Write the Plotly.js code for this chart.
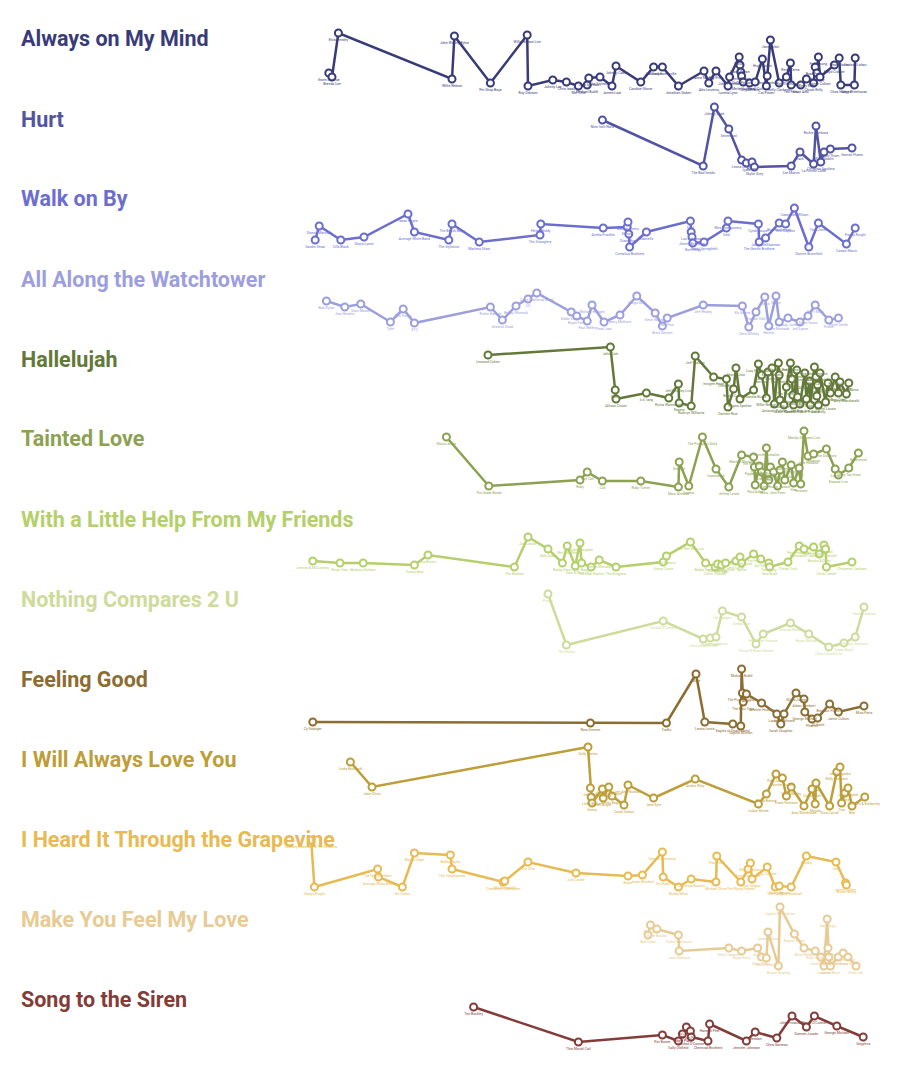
<!DOCTYPE html>
<html>
<head>
<meta charset="utf-8">
<script src="https://cdn.plot.ly/plotly-3.0.1.min.js"></script>
<style>html,body{margin:0;padding:0;background:#fff;}#chart{width:900px;height:1074px;}</style>
</head>
<body>
<div id="chart"></div>
<script>
// ---- Data: one set of arrays per song (x = release year, y = popularity score) ----
const songTitles = ["Always on My Mind","Hurt","Walk on By","All Along the Watchtower","Hallelujah","Tainted Love","With a Little Help From My Friends","Nothing Compares 2 U","Feeling Good","I Will Always Love You","I Heard It Through the Grapevine","Make You Feel My Love","Song to the Siren"];

const mindYear = [1941.1,1941.5,1942.3,1956.5,1956.8,1961.3,1965.9,1966.0,1969.1,1970.8,1972.3,1973.4,1973.6,1975.0,1976.5,1977.0,1980.1,1981.7,1982.8,1984.8,1988.0,1988.6,1989.5,1991.0,1991.2,1992.4,1992.5,1992.6,1992.7,1992.9,1993.7,1994.4,1995.3,1995.8,1995.9,1996.3,1997.4,1998.3,1998.8,1998.9,2000.1,2000.8,2001.7,2001.9,2002.1,2002.3,2002.5,2004.3,2004.9,2005.1,2006.8,2006.9];
const mindScore = [27,23,67,21,64,17,65,14,20,18,14,15,22,23,14,34,18,33,33,14,29,17,29,14,23,43,35,28,24,18,17,18,41,14,24,60,17,23,37,15,15,21,17,33,27,43,23,35,42,15,15,42];
const mindArtists = ["Gwen McCrae","Brenda Lee","Elvis Presley","Willie Nelson","John Wesley Ryles","Pet Shop Boys","Willie Nelson Live","Roy Orbison","Johnny Lee","Chris Isaak","Mel Tillis","Michael Bublé","Julio Iglesias","The Stylistics","James Last","Johnny Cash","Candice Glover","Joe Cocker","Jimmy Somerville","Jonathan Stoker","Anne Murray","Alex Leuterio","Ray Price","Loretta Lynn","John Farnham","Nicole","Frank Ocean","Chris Martin","Dolly Parton","Merle Haggard","Tony Christie","Cheryl Cole","Hugh Laurie","Cat Power","Ken Heinlein","Jane Birkin","Kelly Clarkson","Rob Thomas","Kevin Kerns","Ted Ferro","Steve Aoki","Kerry Ellis","Chuck Kelly","Brad Paisley","Morrissey","Paul Young","Jamie Cullum","Floyd Cramer","Dean Martin","Chas Hodges","Amy Winehouse","Lindsay Lohan"];

const hurtYear = [1975.3,1987.9,1989.3,1991.1,1992.7,1993.3,1994.0,1994.3,1998.9,2000.0,2001.7,2002.0,2002.6,2003.0,2003.8,2006.5];
const hurtScore = [60,14,73,51,20,17,18,13,14,28,16,54,18,28,31,32];
const hurtArtists = ["Nine Inch Nails","The Bad Seeds","Johnny Cash","Sevendust","Leona Lewis","Lydia","Halsey","Skylar Grey","Lee Marvin","Jack","La Fuente Cash","Richie Sambora","Christina Aguilera","Mikal Goblin","Saint Thom","Gomez Flores"];

const walkYear = [1939.4,1939.9,1942.6,1945.5,1951.0,1951.8,1956.1,1956.5,1959.9,1967.5,1967.6,1975.4,1978.4,1978.5,1978.6,1978.7,1980.8,1986.3,1986.4,1986.5,1986.6,1988.0,1990.8,1991.0,1994.8,1994.9,1995.7,1997.4,1998.2,1999.3,2001.1,2002.3,2005.8,2006.9];
const walkScore = [20,34,20,23,46,28,20,36,18,25,36,32,33,38,26,13,28,39,28,23,17,18,32,39,36,18,22,37,36,52,13,37,16,32];
const walkArtists = ["Sandie Shaw","Dionne Warwick","Cilla Black","Gloria Lynne","Isaac Hayes","Average White Band","The Stylistics","The Beach Boys","Marlena Shaw","The Stranglers","Helen Reddy","Aretha Franklin","D-Train","Bobbie Gentry","Diana Ross","Cornelius Brothers","Gabrielle","Sybil","Lou Johnson","Jimmy Bo Horne","Kurt Elling","Dusty Springfield","Seal","Wes Montgomery","Cyndi Lauper","The Gentle Brothers","Jackie DeShannon","Burt Bacharach","Eric Clapton","Cassandra Wilson","Dionne Bromfield","Tom Jones","Cassie Mavis","Franky Knight"];

const towerYear = [1940.8,1943.1,1945.1,1948.8,1950.4,1951.8,1961.3,1962.8,1964.5,1966.0,1967.1,1971.4,1972.1,1973.4,1974.0,1975.5,1977.5,1979.6,1981.9,1982.8,1983.4,1987.9,1992.8,1993.6,1994.5,1995.6,1996.1,1997.0,1997.4,1998.5,2000.0,2001.0,2001.9,2003.6,2004.8];
const towerScore = [39,33,36,18,31,17,33,20,34,41,47,28,24,19,35,18,25,44,27,14,22,35,34,13,28,43,14,44,18,22,18,24,35,20,22];
const towerArtists = ["Bob Dylan","Jimi Hendrix","Dave Mason","Tyler","Neil Young","XTC","Richie Havens","Grateful Dead","Bobby Womack","U2","Dave Matthews Band","Eddie Vedder","Bryan Ferry","Paul Weller","Michael Hedges","Pearl Jam","Barry McGuire","Indigo Girls","Steve Wariner","Brett Dennen","Neil Finn","Jeff Healey","Ely Guerra","Chris Whitley","Frankie Valli","Travis","Heretic","Devlin","The Nomads","Cowboy Junkies","Jeff Lynne","Dylan Stone","Gov't Mule","Prince","Elliott Smith"];

const hallelujahYear = [1961.0,1976.3,1976.9,1977.0,1980.8,1983.6,1984.8,1984.9,1986.4,1986.9,1989.2,1990.8,1991.0,1991.7,1992.0,1992.5,1994.2,1994.8,1995.2,1995.8,1996.0,1996.5,1996.8,1997.3,1997.4,1997.5,1998.0,1998.3,1998.8,1999.0,1999.1,1999.2,1999.6,1999.7,2000.0,2000.6,2000.8,2001.2,2001.3,2001.8,2002.0,2002.1,2002.2,2002.3,2002.5,2003.2,2003.5,2003.8,2004.4,2004.8,2005.0,2005.8,2006.1];
const hallelujahScore = [65,73,30,21,27,22,36,17,14,64,43,41,13,31,52,21,30,56,45,22,48,52,16,57,45,20,15,33,57,41,25,15,50,23,16,47,21,39,15,53,43,24,35,15,47,18,37,27,43,27,38,26,37];
const hallelujahArtists = ["Leonard Cohen","John Cale","Bono","Allison Crowe","k.d. lang","Rufus Wainwright","Jeff Buckley Live","Espers","Kathryn Williams","Jeff Buckley","Imogen Heap","Chris Botti","Damien Rice","Brandi Carlile","Sheryl Crow","Regina Spektor","Alexandra Burke","Lucy Woodward","Bon Jovi","Willie Nelson","Justin Timberlake","Kate Voegele","Amanda Palmer","Espen Lind","Paul Potts","Lee DeWyze","Jason Castro","Tim Minchin","Pentatonix","Il Divo","Celtic Woman","Katie Melua","Neil Diamond","Susan Boyle","Jon Bon Jovi","Alexandra Stan","Ana Moura","Allison Iraheta","Kirk Franklin","Brandon Flowers","Matt Corby","Bastille","Myles Kennedy","Tori Kelly","Jake Shimabukuro","Daniel Lavoie","Kate McKinnon","Fink","Roomful","Tom Odell","Kelley Mickwee","Amy Macdonald","Ryan Adams"];

const taintedYear = [1955.8,1961.1,1972.5,1973.4,1975.3,1980.1,1984.8,1984.9,1986.1,1987.8,1989.5,1991.1,1992.7,1994.2,1994.3,1994.4,1994.9,1995.2,1995.5,1995.8,1996.0,1996.1,1996.3,1996.7,1997.2,1997.5,1997.8,1998.1,1998.9,1999.2,1999.9,2000.1,2000.5,2001.0,2001.7,2003.3,2004.4,2004.8,2006.1,2007.3];
const taintedScore = [63,14,20,28,19,19,13,38,14,63,31,13,45,43,33,15,34,28,14,52,27,20,33,28,14,30,38,20,35,17,32,16,69,44,46,51,31,25,32,47];
const taintedArtists = ["Gloria Jones","The Grass Roots","Ruby","Soft Cell","Coil","Ruby Turner","Marc Almond","Erasure","Inpetto","The Pussycat Dolls","Impedance","Jeffrey Lewis","Marilyn Manson","The Pussycats","Pippa Jones","Paul Anka","Tiger Army","Lissie","Mika","Jennifer Scholes","Schulz","Blue Hearts","The Living End","David Byrne","Jem Finer","Jonathan Coulton","Dolores","Cassie","Voyager","Slim","Shag","Forward","Marilyn Manson Live","Jolie Holland","Rihanna","The Dolphins","Laura","Erasure Live","Shiny Toy Guns","Nevermind"];

const helpYear = [1939.1,1942.5,1945.4,1951.8,1953.5,1964.3,1966.0,1968.5,1970.3,1970.9,1971.9,1972.5,1972.7,1973.9,1974.9,1977.0,1982.9,1983.3,1986.3,1988.2,1989.4,1989.7,1990.2,1990.7,1992.0,1992.5,1992.7,1994.2,1995.1,1996.1,1996.2,1998.5,1999.9,2000.5,2001.7,2002.4,2003.0,2003.2,2003.3,2006.5];
const helpScore = [19,17,17,15,25,13,43,31,17,34,14,37,17,13,20,13,18,24,38,17,13,16,15,17,19,23,17,26,21,17,13,18,34,31,33,26,35,31,13,18];
const helpArtists = ["Lennon & McCartney","Ringo Starr","Barbara Dickson","Young Idea","Joe Brown","The Beatles","Joe Cocker","Bob Dylan","Bobby Darin","Wet Wet Wet","Sam & Dave","Frankie Vaughan","Billy Bragg","The Mad Hatters","Sergio Mendes","The Kingpins","Sonny Curtis","Jim Nabors","Wet Wet Wet Live","Bobby Kimball","Celtic Thunder","Elaine Paige","The Cast","Grand Funk","Jeff Lynne","Steve Winwood","Spirits","Jim Hall","Axl Vibe","Tom Petty","Sam Bush","Cheap Trick","Peter Frampton","Barenaked Ladies","Richie Havens","Brooks & Dunn","KT Tunstall","Cavan Kendall","Chris Cornell","Cheyenne Jackson"];

const comparesYear = [1968.5,1970.8,1982.9,1987.9,1988.8,1989.5,1990.3,1992.7,1994.5,1995.4,1998.8,2001.1,2003.6,2005.5,2006.9,2008.0];
const comparesScore = [66,15,39,21,22,23,49,43,16,26,37,26,13,17,23,53];
const comparesArtists = ["Prince","The Family","Sinéad O'Connor","Jimmy Somerville","Chris Cornell","Stereophonics","Ute Lemper","Sinéad Live","Prince & Rosie Gaines","Hothouse Flowers","Dolores Keane","Bryan McFadden","Chris Cornell Live","Susan Boyle","Kenny Lattimore","Seeed Thomas"];

const feelingYear = [1939.1,1973.8,1983.3,1987.0,1988.1,1991.6,1992.6,1992.7,1992.8,1992.9,1993.3,1995.2,1997.1,1997.6,1998.0,1999.5,2000.5,2000.6,2001.5,2002.2,2003.7,2004.8,2008.0];
const feelingScore = [18,17,17,66,18,16,14,71,47,38,46,37,26,16,26,47,41,28,21,22,36,28,34];
const feelingArtists = ["Cy Grainger","Nina Simone","Traffic","Muse","Leona Lewis","Eagles of Death Metal","Sophie Milman","Michael Bublé","The Pussycat Dolls","The Four Tops","Avicii","Jennifer Hudson","Lauryn Hill","Sarah Vaughan","John Coltrane","Gloria Jones","Adam Lambert","George Michael","Pharrell","Jill Scott","Brandon Flowers","Jamie Cullum","Mica Paris"];

const alwaysYear = [1943.8,1946.5,1973.5,1973.8,1973.9,1974.0,1975.3,1975.4,1976.1,1976.5,1978.0,1978.5,1981.7,1986.9,1994.8,1995.8,1997.0,1997.8,1998.3,1998.9,2000.5,2001.5,2001.9,2002.0,2003.7,2004.6,2005.0,2005.2,2005.6,2006.0,2006.5,2008.1];
const alwaysScore = [58,33,73,32,23,17,31,22,33,24,15,35,22,41,16,26,46,42,24,33,14,31,16,37,14,48,53,17,27,32,14,23];
const alwaysArtists = ["Linda Ronstadt","Jane Olivor","Dolly Parton","John Doe","Linda Bodin","Sonny","Jim Reeves","Jeff Bright","Whitney Houston","Kenny Rogers","Candi Staton","Lee Ann Womack","Jane Eyre","Amber Riley","LeAnn Rimes","Paola Bonnie","Patti Jones","Jennifer Hudson","Frank Fontaine","Scott Wesley","Amy Winehouse","Cassie Ash","Mariah","Ella","Dina Carroll","Kelly Clarkson","Jordin Sparks","Tina","Celine","John Legend","Rita","Kristen & Kimberley"];

const grapevineYear = [1938.9,1939.3,1947.2,1947.3,1950.3,1951.8,1956.3,1956.5,1962.9,1963.1,1966.0,1972.0,1978.5,1980.3,1982.8,1982.9,1984.8,1986.4,1989.5,1989.6,1992.6,1993.5,1993.8,1994.0,1995.9,1996.9,1997.4,1998.9,2000.8,2004.5,2005.7,2005.8];
const grapevineScore = [60,13,31,23,13,47,45,31,18,19,38,27,24,25,48,23,13,21,18,44,18,31,37,21,33,13,14,13,44,38,17,15];
const grapevineArtists = ["Smokey Robinson & The Miracles","Gladys Knight","The Isley Brothers","Average White Band","Ike Turner","Marvin Gaye","Bobby Taylor","The Temptations","Creedence Clearwater","Ella Fitzgerald","The Slits","Joe Cocker","Roger","Jesse Bluebird","Donnie Hathaway","Del Hyatt","Buddy Miles","California Raisins","Michael Oliver","Paul Knoll","The Flying Pickets","Amy Winehouse","Kelly Clarkson","Joe Stilgoe","Eric Clapton","Sue Folley","Nancy Brown","Mick Hucknall","Crosby","Seal","Jamie Cullum","Brown Bailey"];

const loveYear = [1981.0,1981.3,1982.1,1984.8,1984.9,1991.1,1992.7,1994.7,1995.2,1995.8,1996.0,1997.3,1997.5,1999.3,2000.5,2001.9,2002.6,2003.0,2003.4,2003.5,2003.6,2003.8,2004.8,2005.4,2006.0,2007.0];
const loveScore = [45,55,51,45,29,32,29,32,23,22,48,14,73,46,32,29,23,14,61,32,23,14,23,27,23,14];
const loveArtists = ["Bob Dylan","Billy Joel","Garth Brooks","Trisha Yearwood","Joan Osborne","Kelly Clarkson","Bryan Ferry","Adele","Boyz II Men","Neil Diamond","Jamie Cullum","Ronan Keating","Sophie B. Hawkins","Rachel Weisz","Bette Midler","Kelly Jones","Sarah Darling","Lonestar","Jake Bugg","Tim Mills","Greg Holden","James Blunt","Ed Sheeran","Hayley Reinhart","Shane Filan","Pixie Lott"];

const sirenYear = [1959.2,1972.3,1982.8,1984.8,1985.3,1985.8,1986.3,1986.4,1988.5,1988.7,1993.3,1994.4,1997.1,1999.0,2000.8,2001.8,2004.6,2007.9];
const sirenScore = [53,18,25,19,26,33,29,23,19,36,19,28,22,44,33,44,34,23];
const sirenArtists = ["Tim Buckley","This Mortal Coil","Pat Boone","Sally Oldfield","Robert Plant","Jo Lemaire","Bryan Ferry","Sinéad O'Connor","Chemical Brothers","Hannah Peel","Jennifer Johnson","Brendan","Chris Garneau","John Frusciante","Damien Jurado","Elaine O'Connor","George Michael","Sisyphus"];

const songColors = ["#393b79","#5254a3","#6b6ecf","#9c9ede","#637939","#8ca252","#b5cf6b","#cedb9c","#8c6d31","#bd9e39","#e7ba52","#e7cb94","#843c39"];

const seriesX = [mindYear,hurtYear,walkYear,towerYear,hallelujahYear,taintedYear,helpYear,comparesYear,feelingYear,alwaysYear,grapevineYear,loveYear,sirenYear];
const seriesY = [mindScore,hurtScore,walkScore,towerScore,hallelujahScore,taintedScore,helpScore,comparesScore,feelingScore,alwaysScore,grapevineScore,loveScore,sirenScore];
const seriesText = [mindArtists,hurtArtists,walkArtists,towerArtists,hallelujahArtists,taintedArtists,helpArtists,comparesArtists,feelingArtists,alwaysArtists,grapevineArtists,loveArtists,sirenArtists];

// ---- Layout ----
const W = 900, H = 1074, ROW = 80;
const traces = [];
const layout = {
  width: W, height: H,
  margin: {l:0, r:0, t:0, b:0},
  paper_bgcolor: "#ffffff", plot_bgcolor: "#ffffff",
  showlegend: false,
  xaxis: {range:[1900, 1900 + W/8], domain:[0,1], visible:false, fixedrange:true},
  annotations: []
};

songTitles.forEach((title, i) => {
  const axisName = i === 0 ? "yaxis" : "yaxis" + (i+1);
  const axisRef = i === 0 ? "y" : "y" + (i+1);
  const top = 20 + ROW*i, bottom = 100 + ROW*i;
  layout[axisName] = {domain:[1 - bottom/H, 1 - top/H], range:[0, 80], visible:false, fixedrange:true};
  traces.push({
    type: "scatter",
    mode: "lines+markers+text",
    x: seriesX[i], y: seriesY[i], text: seriesText[i],
    xaxis: "x", yaxis: axisRef,
    textposition: "bottom center",
    textfont: {family:"Roboto, sans-serif", size:3.5, color: songColors[i]},
    line: {color: songColors[i], width: 2.5},
    marker: {symbol:"circle", size:7, color:"#ffffff", line:{color: songColors[i], width:2}},
    cliponaxis: false,
    hoverinfo: "x+y+text"
  });
  layout.annotations.push({
    xref:"paper", yref:"paper",
    x: 19/W, y: 1 - (39 + ROW*i)/H,
    xanchor:"left", yanchor:"middle",
    text: title, showarrow:false,
    font: {family:"Roboto, sans-serif", size:21.5, weight:700, color: songColors[i]}
  });
});

Plotly.newPlot("chart", traces, layout, {displayModeBar:false, staticPlot:true});
</script>
</body>
</html>
